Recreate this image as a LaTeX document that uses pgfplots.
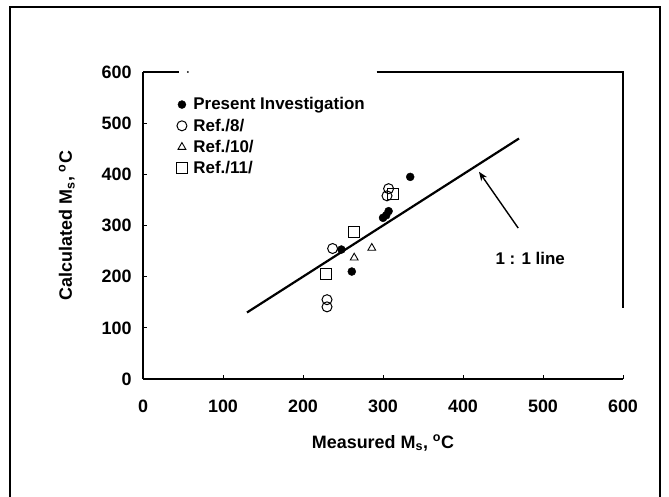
\documentclass[border=0pt]{standalone}
\usepackage{fontspec}
\setmainfont{Liberation Sans}
\usepackage{pgfplots}
\pgfplotsset{compat=1.18}
\usetikzlibrary{arrows.meta}

\begin{document}
\begin{tikzpicture}[x=1bp,y=1bp]
\path[use as bounding box] (-143,-118) rectangle (526,379);
% outer frame (bottom edge runs past the picture)
\draw[line width=2.2bp] (-133,-130) -- (-133,372) -- (517,372) -- (517,-130);
\begin{axis}[
    at={(0,0)}, anchor=origin,
    scale only axis,
    width=480bp, height=307bp,
    xmin=0, xmax=600, ymin=0, ymax=600,
    xtick={0,100,...,600}, ytick={0,100,...,600},
    axis x line*=bottom, axis y line*=left,
    axis line style={line width=1.2bp, -},
    tick align=inside,
    tick style={line width=1bp, black},
    major tick length=4bp,
    /pgf/number format/assume math mode=true,
    every tick label/.append style={font=\fontsize{18}{18}\selectfont\bfseries},
    xticklabel style={yshift=-17bp},
    yticklabel style={xshift=-8bp},
    xlabel={Measured M\textsubscript{s}, \textsuperscript{o}C},
    ylabel={Calculated M\textsubscript{s}, \textsuperscript{o}C},
    label style={font=\fontsize{18}{18}\selectfont\bfseries},
    xlabel style={yshift=-16bp},
    ylabel style={yshift=20bp},
    legend style={draw=none, fill=none, at={(0.063,0.93)}, anchor=north west,
        font=\fontsize{17}{17}\selectfont\bfseries, row sep=3.5bp,
        /tikz/every odd column/.append style={column sep=4bp}},
    legend cell align=left,
    clip=false,
]
\addplot[only marks, mark=*, mark size=4bp, black] coordinates {
    (334,395) (300,315) (304,320) (307,328) (248,253) (261,210)
};
\addlegendentry{Present Investigation}
\addplot[only marks, mark=o, mark size=5bp, black, line width=1bp] coordinates {
    (307,372) (305,358) (237,255) (230,155) (230,141)
};
\addlegendentry{Ref./8/}
\addplot[only marks, mark=triangle, mark size=4.5bp, black, line width=0.9bp] coordinates {
    (264,237) (286,256)
};
\addlegendentry{Ref./10/}
\addplot[only marks, mark=square, mark size=5.5bp, black, line width=1bp] coordinates {
    (313,362) (264,288) (229,206)
};
\addlegendentry{Ref./11/}
\addplot[line width=2.2bp, black, forget plot] coordinates {(130,130) (470,470)};
% broken top and right axis lines as in the scan
\draw[line width=1.2bp] (axis cs:0,600) -- (axis cs:45,600);
\fill (axis cs:56,600) circle (1bp);
\draw[line width=1.2bp] (axis cs:292,600) -- (axis cs:600,600) -- (axis cs:600,139);
\draw[line width=1.4bp, -{Stealth[length=9bp,width=7bp]}] (axis cs:469,295) -- (axis cs:420,405);
\node[font=\fontsize{17}{17}\selectfont\bfseries] at (axis cs:484,236) {1 : 1 line};
\end{axis}
\end{tikzpicture}
\end{document}
